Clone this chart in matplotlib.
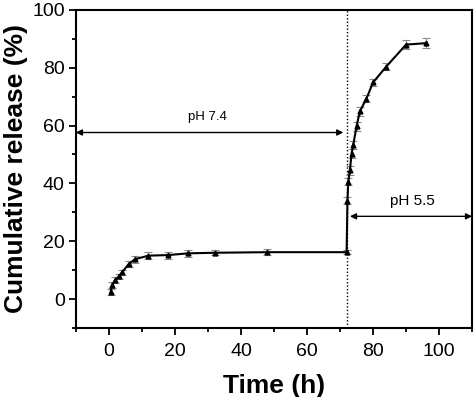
import matplotlib
matplotlib.use("Agg")
import matplotlib.pyplot as plt
from matplotlib.ticker import MultipleLocator

plt.rcParams['font.family'] = ['Liberation Sans', 'DejaVu Sans']

time_h = [0.5, 1, 2, 3, 4, 6, 8, 12, 18, 24, 32, 48, 72,
          72.25, 72.5, 73, 73.5, 74, 75, 76, 78, 80, 84, 90, 96]
release = [2.3, 4.9, 6.7, 7.8, 9.2, 12.1, 13.8, 15.0, 15.2, 15.8, 16.0, 16.2, 16.2,
           34.0, 40.5, 44.5, 50.3, 53.3, 59.7, 64.9, 69.3, 74.9, 80.4, 88.0, 88.5]
err = [1.0, 1.0, 1.0, 1.0, 1.0, 1.0, 1.2, 1.2, 1.2, 1.2, 0.8, 1.0, 0.8,
       1.2, 1.2, 1.5, 1.5, 1.5, 1.5, 1.5, 1.2, 1.2, 1.2, 1.5, 1.8]

fig = plt.figure(figsize=(4.74, 3.97), dpi=100)
ax = fig.add_axes([0.160, 0.174, 0.836, 0.801])

ax.axvline(72, color='black', linestyle=(0, (1, 1.5)), linewidth=1.0, zorder=1)
ax.errorbar(time_h, release, yerr=err, color='black', marker='^', markersize=3.5,
            linewidth=1.5, ecolor='#8a8a8a', elinewidth=0.8, capsize=3, capthick=0.8, zorder=3)

ax.annotate('', xy=(-10, 57.6), xytext=(71, 57.6),
            arrowprops=dict(arrowstyle='<|-|>', color='black', lw=1.0,
                            mutation_scale=9, shrinkA=0, shrinkB=0))
ax.text(30, 62.8, 'pH 7.4', ha='center', va='center', fontsize=9.5)
ax.annotate('', xy=(73, 28.6), xytext=(110, 28.6),
            arrowprops=dict(arrowstyle='<|-|>', color='black', lw=1.0,
                            mutation_scale=9, shrinkA=0, shrinkB=0))
ax.text(92, 34.0, 'pH 5.5', ha='center', va='center', fontsize=11)

ax.set_xlim(-10, 110)
ax.set_ylim(-10, 100)
ax.xaxis.set_major_locator(MultipleLocator(20))
ax.xaxis.set_minor_locator(MultipleLocator(10))
ax.yaxis.set_major_locator(MultipleLocator(20))
ax.yaxis.set_minor_locator(MultipleLocator(10))
ax.tick_params(which='both', direction='out', top=False, right=False, width=1.3, labelsize=14)
ax.tick_params(which='major', length=5, pad=3)
ax.tick_params(axis='x', which='major', pad=6)
ax.tick_params(which='minor', length=3)
for s in ax.spines.values():
    s.set_linewidth(1.5)

ax.set_xlabel('Time (h)', fontsize=19, fontweight='bold', labelpad=10)
ax.set_ylabel('Cumulative release (%)', fontsize=19, fontweight='bold', labelpad=3)

fig.savefig('out.png', dpi=100)
